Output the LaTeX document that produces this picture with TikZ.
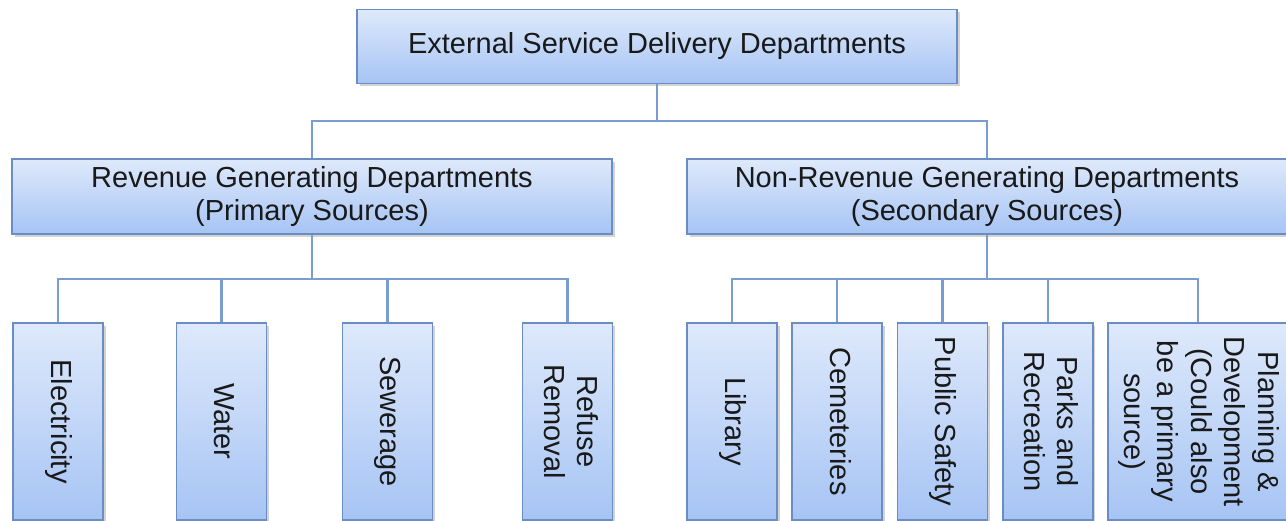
\documentclass[tikz,border=0pt]{standalone}
\usepackage{fontspec}
\setmainfont{Liberation Sans}
\usetikzlibrary{positioning,shadows}
\definecolor{boxtop}{HTML}{DEE9FB}
\definecolor{boxbot}{HTML}{A6C4F4}
\definecolor{boxline}{HTML}{6A8DC4}
\definecolor{linkline}{HTML}{7A9CD0}
\newcommand{\vlabel}[1]{\rotatebox{-90}{\begin{tabular}{@{}c@{}}#1\end{tabular}}}

\begin{document}
\begin{tikzpicture}[
x=0.02cm,y=-0.02cm,
dept/.style={
  draw=boxline,
  line width=1pt,
  top color=boxtop,
  bottom color=boxbot,
  drop shadow={shadow xshift=1.5pt,shadow yshift=-1.5pt,opacity=0.35},
  inner sep=0pt,
  align=center,
  text=black!90,
  font=\fontsize{16.5}{19}\selectfont,
  minimum width=12cm,
  minimum height=1.48cm
},
unit/.style={
  dept,
  minimum width=1.8cm,
  minimum height=3.94cm
},
link/.style={
  draw=linkline,
  line width=1.2pt
},
node distance=0.27cm
]
\useasboundingbox (0,0) rectangle (1286,521);

\node[dept] (ext) at (657,46.5) 
  {External Service Delivery Departments};
\node[dept,minimum height=1.5cm] (rev) at (312,196.5) 
  {Revenue Generating Departments\\(Primary Sources)};
\node[dept,minimum height=1.5cm] (nonrev) at (987,196.5) 
  {Non-Revenue Generating Departments\\(Secondary Sources)};

\node[unit] (elec) at (58,421.5) 
  {\vlabel{Electricity}};
\node[unit] (water) at (221.5,421.5) 
  {\vlabel{Water}};
\node[unit] (sewer) at (387.5,421.5) 
  {\vlabel{Sewerage}};
\node[unit] (refuse) at (567.5,421.5) 
  {\vlabel{Refuse\\Removal}};

\node[unit] (lib) at (732,421.5) 
  {\vlabel{Library}};
\node[unit,right=of lib] (cem) 
  {\vlabel{Cemeteries}};
\node[unit,right=of cem] (safety) 
  {\vlabel{Public Safety}};
\node[unit,right=of safety] (parks) 
  {\vlabel{Parks and\\Recreation}};
\node[unit,right=of parks,minimum width=3.6cm] (plan) 
  {\vlabel{Planning \&\\Development\\(Could also\\be a primary\\source)}};

\draw[link] (ext.south) -- ++(0,37) -| (rev.north);
\draw[link] (ext.south) -- ++(0,37) -| (nonrev.north);

\foreach \n in {elec,water,sewer,refuse}
  \draw[link] (rev.south) -- ++(0,44) -| (\n.north);
\foreach \n in {lib,cem,safety,parks,plan}
  \draw[link] (nonrev.south) -- ++(0,44) -| (\n.north);
\end{tikzpicture}
\end{document}
